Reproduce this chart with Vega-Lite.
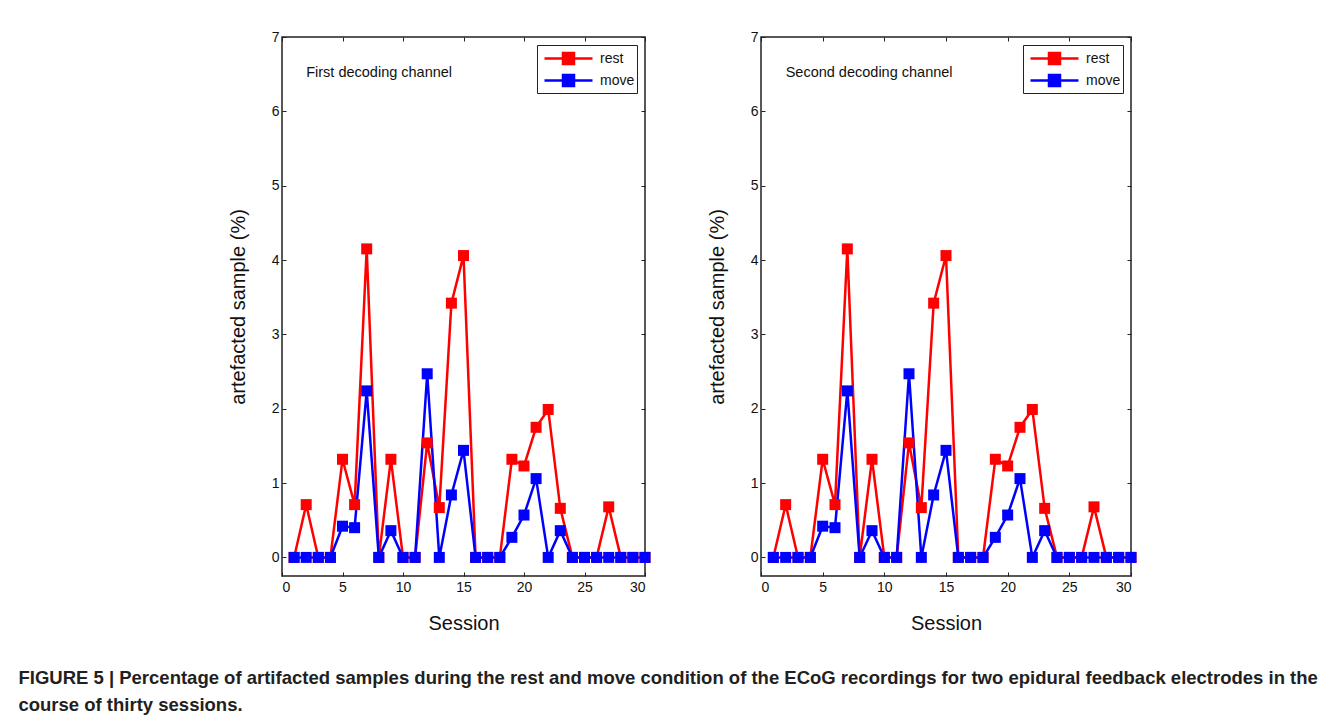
{
  "$schema": "https://vega.github.io/schema/vega-lite/v6.json",
  "background": "white",
  "padding": {"left": 18, "top": 29, "right": 5, "bottom": 5},
  "datasets": {
    "sessions": [
      {"session": 1, "condition": "rest", "value": 0},
      {"session": 2, "condition": "rest", "value": 0.71},
      {"session": 3, "condition": "rest", "value": 0},
      {"session": 4, "condition": "rest", "value": 0},
      {"session": 5, "condition": "rest", "value": 1.32},
      {"session": 6, "condition": "rest", "value": 0.71},
      {"session": 7, "condition": "rest", "value": 4.15},
      {"session": 8, "condition": "rest", "value": 0},
      {"session": 9, "condition": "rest", "value": 1.32},
      {"session": 10, "condition": "rest", "value": 0},
      {"session": 11, "condition": "rest", "value": 0},
      {"session": 12, "condition": "rest", "value": 1.54},
      {"session": 13, "condition": "rest", "value": 0.67},
      {"session": 14, "condition": "rest", "value": 3.42},
      {"session": 15, "condition": "rest", "value": 4.06},
      {"session": 16, "condition": "rest", "value": 0},
      {"session": 17, "condition": "rest", "value": 0},
      {"session": 18, "condition": "rest", "value": 0},
      {"session": 19, "condition": "rest", "value": 1.32},
      {"session": 20, "condition": "rest", "value": 1.23},
      {"session": 21, "condition": "rest", "value": 1.75},
      {"session": 22, "condition": "rest", "value": 1.99},
      {"session": 23, "condition": "rest", "value": 0.66},
      {"session": 24, "condition": "rest", "value": 0},
      {"session": 25, "condition": "rest", "value": 0},
      {"session": 26, "condition": "rest", "value": 0},
      {"session": 27, "condition": "rest", "value": 0.68},
      {"session": 28, "condition": "rest", "value": 0},
      {"session": 29, "condition": "rest", "value": 0},
      {"session": 30, "condition": "rest", "value": 0},
      {"session": 1, "condition": "move", "value": 0},
      {"session": 2, "condition": "move", "value": 0},
      {"session": 3, "condition": "move", "value": 0},
      {"session": 4, "condition": "move", "value": 0},
      {"session": 5, "condition": "move", "value": 0.42},
      {"session": 6, "condition": "move", "value": 0.4},
      {"session": 7, "condition": "move", "value": 2.24},
      {"session": 8, "condition": "move", "value": 0},
      {"session": 9, "condition": "move", "value": 0.36},
      {"session": 10, "condition": "move", "value": 0},
      {"session": 11, "condition": "move", "value": 0},
      {"session": 12, "condition": "move", "value": 2.47},
      {"session": 13, "condition": "move", "value": 0},
      {"session": 14, "condition": "move", "value": 0.84},
      {"session": 15, "condition": "move", "value": 1.44},
      {"session": 16, "condition": "move", "value": 0},
      {"session": 17, "condition": "move", "value": 0},
      {"session": 18, "condition": "move", "value": 0},
      {"session": 19, "condition": "move", "value": 0.27},
      {"session": 20, "condition": "move", "value": 0.57},
      {"session": 21, "condition": "move", "value": 1.06},
      {"session": 22, "condition": "move", "value": 0},
      {"session": 23, "condition": "move", "value": 0.36},
      {"session": 24, "condition": "move", "value": 0},
      {"session": 25, "condition": "move", "value": 0},
      {"session": 26, "condition": "move", "value": 0},
      {"session": 27, "condition": "move", "value": 0},
      {"session": 28, "condition": "move", "value": 0},
      {"session": 29, "condition": "move", "value": 0},
      {"session": 30, "condition": "move", "value": 0}
    ]
  },
  "title": {
    "text": ["FIGURE 5 | Percentage of artifacted samples during the rest and move condition of the ECoG recordings for two epidural feedback electrodes in the", "course of thirty sessions."],
    "orient": "bottom",
    "anchor": "start",
    "frame": "bounds",
    "dx": -209,
    "offset": 35,
    "font": "Liberation Sans",
    "fontSize": 18.5,
    "fontWeight": "bold",
    "color": "#231f20",
    "lineHeight": 27
  },
  "spacing": 54,
  "resolve": {"legend": {"color": "independent"}},
  "config": {
    "font": "Liberation Sans",
    "view": {"stroke": "#222", "strokeWidth": 1.5},
    "axis": {
      "domain": false,
      "grid": false,
      "tickSize": -4,
      "tickColor": "#222",
      "tickWidth": 1,
      "labelFont": "Liberation Sans",
      "labelFontSize": 14,
      "labelColor": "#111",
      "titleFont": "Liberation Sans",
      "titleFontSize": 20,
      "titleFontWeight": "normal",
      "titleColor": "#111"
    },
    "legend": {
      "orient": "top-right",
      "offset": 8,
      "strokeColor": "#222",
      "fillColor": "white",
      "padding": 2,
      "title": null,
      "labelFont": "Liberation Sans",
      "labelFontSize": 14,
      "labelColor": "#111",
      "rowPadding": -3,
      "symbolType": "M-2.4,0H2.4M-0.55,-0.55H0.55V0.55H-0.55Z",
      "symbolSize": 400,
      "symbolOffset": 18,
      "symbolStrokeWidth": 2.5,
      "labelOffset": 20
    }
  },
  "hconcat": [
    {
      "width": 363,
      "height": 539,
      "layer": [
        {
          "data": {"name": "sessions"},
          "mark": {"type": "line", "strokeWidth": 2.5},
          "encoding": {
            "x": {"field": "session", "type": "quantitative", "scale": {"domain": [0, 30], "nice": false, "zero": false},
                  "axis": {"values": [0, 5, 10, 15, 20, 25, 30], "title": "Session", "labelPadding": 8, "titlePadding": 19}},
            "y": {"field": "value", "type": "quantitative", "scale": {"domain": [-0.25, 7], "nice": false, "zero": false},
                  "axis": {"values": [0, 1, 2, 3, 4, 5, 6, 7], "title": "artefacted sample (%)", "labelPadding": 7, "titlePadding": 23}},
            "color": {"field": "condition", "type": "nominal", "scale": {"domain": ["rest", "move"], "range": ["#ff0000", "#0000ff"]},
                      "legend": {"encode": {"symbols": {"update": {"fill": {"scale": "color", "field": "value"}, "stroke": {"scale": "color", "field": "value"}}}}}}
          }
        },
        {
          "data": {"name": "sessions"},
          "mark": {"type": "square", "size": 121, "opacity": 1},
          "encoding": {
            "x": {"field": "session", "type": "quantitative", "axis": {"orient": "top", "values": [0, 5, 10, 15, 20, 25, 30], "labels": false, "title": null}},
            "y": {"field": "value", "type": "quantitative", "axis": {"orient": "right", "values": [0, 1, 2, 3, 4, 5, 6, 7], "labels": false, "title": null}},
            "color": {"field": "condition", "type": "nominal"}
          }
        },
        {
          "data": {"values": [{"label": "First decoding channel", "sx": 2, "sy": 6.52}]},
          "mark": {"type": "text", "align": "left", "baseline": "middle", "fontSize": 14.5, "font": "Liberation Sans", "color": "#111"},
          "encoding": {
            "x": {"field": "sx", "type": "quantitative", "axis": null},
            "y": {"field": "sy", "type": "quantitative", "axis": null},
            "text": {"field": "label"}
          }
        }
      ],
      "resolve": {"axis": {"x": "independent", "y": "independent"}}
    },
    {
      "width": 370,
      "height": 539,
      "layer": [
        {
          "data": {"name": "sessions"},
          "mark": {"type": "line", "strokeWidth": 2.5},
          "encoding": {
            "x": {"field": "session", "type": "quantitative", "scale": {"domain": [0, 30], "nice": false, "zero": false},
                  "axis": {"values": [0, 5, 10, 15, 20, 25, 30], "title": "Session", "labelPadding": 8, "titlePadding": 19}},
            "y": {"field": "value", "type": "quantitative", "scale": {"domain": [-0.25, 7], "nice": false, "zero": false},
                  "axis": {"values": [0, 1, 2, 3, 4, 5, 6, 7], "title": "artefacted sample (%)", "labelPadding": 7, "titlePadding": 23}},
            "color": {"field": "condition", "type": "nominal", "scale": {"domain": ["rest", "move"], "range": ["#ff0000", "#0000ff"]},
                      "legend": {"encode": {"symbols": {"update": {"fill": {"scale": "color", "field": "value"}, "stroke": {"scale": "color", "field": "value"}}}}}}
          }
        },
        {
          "data": {"name": "sessions"},
          "mark": {"type": "square", "size": 121, "opacity": 1},
          "encoding": {
            "x": {"field": "session", "type": "quantitative", "axis": {"orient": "top", "values": [0, 5, 10, 15, 20, 25, 30], "labels": false, "title": null}},
            "y": {"field": "value", "type": "quantitative", "axis": {"orient": "right", "values": [0, 1, 2, 3, 4, 5, 6, 7], "labels": false, "title": null}},
            "color": {"field": "condition", "type": "nominal"}
          }
        },
        {
          "data": {"values": [{"label": "Second decoding channel", "sx": 2, "sy": 6.52}]},
          "mark": {"type": "text", "align": "left", "baseline": "middle", "fontSize": 14.5, "font": "Liberation Sans", "color": "#111"},
          "encoding": {
            "x": {"field": "sx", "type": "quantitative", "axis": null},
            "y": {"field": "sy", "type": "quantitative", "axis": null},
            "text": {"field": "label"}
          }
        }
      ],
      "resolve": {"axis": {"x": "independent", "y": "independent"}}
    }
  ]
}
